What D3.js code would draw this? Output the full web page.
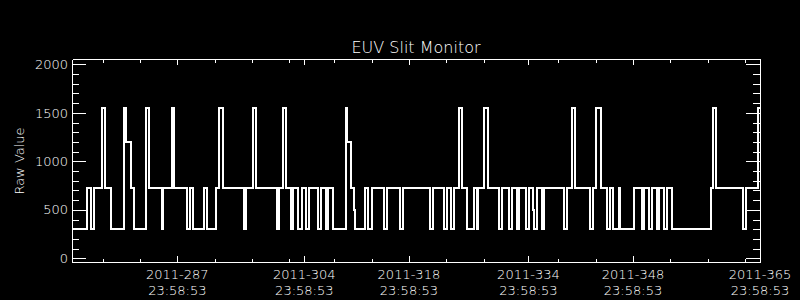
<!DOCTYPE html>
<html>
<head>
<meta charset="utf-8">
<script src="https://cdn.jsdelivr.net/npm/d3@7"></script>
<style>
  html, body { margin: 0; padding: 0; background: #000; }
  svg { display: block; }
  text { fill: #fff; font-family: "DejaVu Sans", sans-serif; font-weight: 200; }
</style>
</head>
<body>
<svg id="chart" width="800" height="300"></svg>
<script>
// day of year 2011 (fractional) where each step starts, and the raw value held from there
const stepDays = [
  273.90, 275.95, 276.48, 276.89, 277.88, 278.28, 279.16, 280.82, 281.13, 281.84,
  282.24, 283.85, 284.17, 285.99, 286.12, 287.25, 287.59, 289.25, 289.70, 290.14,
  291.57, 292.01, 293.14, 293.62, 294.15, 296.97, 297.19, 298.17, 298.57, 301.34,
  301.57, 302.19, 302.59, 303.15, 303.49, 304.20, 304.65, 305.19, 305.59, 306.83,
  307.19, 307.90, 308.17, 308.88, 310.58, 310.75, 311.21, 311.69, 311.83, 313.12,
  313.59, 314.03, 315.67, 316.07, 317.81, 318.17, 321.83, 322.19, 323.74, 324.14,
  324.68, 325.06, 325.75, 326.15, 326.74, 327.76, 328.12, 328.25, 329.09, 329.55,
  331.06, 331.50, 332.44, 332.76, 333.43, 333.74, 334.74, 335.04, 335.65, 335.79,
  336.11, 336.78, 337.15, 339.76, 340.12, 340.79, 341.17, 343.24, 343.58, 344.11,
  344.68, 345.56, 345.92, 346.28, 347.13, 347.21, 349.17, 350.16, 350.51, 351.18,
  351.50, 352.17, 352.52, 353.19, 353.51, 354.18, 359.44, 359.75, 360.07, 363.69,
  364.06, 365.67, 366.00
];
const rawValues = [
  305, 725, 305, 725, 1550, 725, 305, 1550, 1200, 725,
  305, 1550, 725, 305, 725, 1550, 725, 305, 725, 305,
  725, 305, 725, 1550, 725, 305, 725, 1550, 725, 305,
  725, 1550, 725, 305, 725, 305, 725, 305, 725, 305,
  725, 305, 725, 305, 1550, 1200, 725, 500, 305, 725,
  305, 725, 305, 725, 305, 725, 305, 725, 305, 725,
  305, 725, 1550, 725, 305, 725, 305, 725, 1550, 725,
  305, 725, 305, 725, 305, 725, 305, 725, 500, 305,
  725, 305, 725, 305, 725, 1550, 725, 305, 725, 1550,
  725, 305, 725, 305, 725, 305, 725, 305, 725, 305,
  725, 305, 725, 305, 725, 305, 725, 1550, 725, 305,
  725, 1550, 1550
];

const labelYear = 2011;
const labelDays = [287, 304, 318, 334, 348, 365];
const labelTime = '23:58:53';
const minorDays = [278, 283, 293, 298, 303, 309, 314, 324, 329, 339, 344, 354, 359, 364];
const yMajor = [0, 500, 1000, 1500, 2000];
const yMinor = [100, 200, 300, 400, 600, 700, 800, 900, 1100, 1200, 1300, 1400,
                1600, 1700, 1800, 1900];

const plotLeft = 72, plotRight = 760, plotTop = 59, plotBottom = 262;
const timeFrac = (23 * 3600 + 58 * 60 + 53) / 86400;

const svg = d3.select('#chart');
svg.append('rect').attr('width', 800).attr('height', 300).attr('fill', '#000');

const x = d3.scaleLinear().domain([273.9, 366.0]).range([plotLeft, plotRight]);
const y = d3.scaleLinear().domain([-38, 2055]).range([plotBottom, plotTop]);

const majorX = labelDays.map(d => d + timeFrac);

function styleAxis(g) {
  g.attr('color', '#fff').attr('shape-rendering', 'crispEdges');
  g.selectAll('text').attr('fill', '#fff').attr('font-size', 13)
    .attr('font-family', '"DejaVu Sans", sans-serif');
}

// bottom + top x axes (ticks inward)
svg.append('g').attr('transform', `translate(0,${plotBottom})`)
  .call(d3.axisBottom(x).tickValues(majorX).tickSize(-6).tickSizeOuter(0).tickFormat(''))
  .call(styleAxis);
svg.append('g').attr('transform', `translate(0,${plotBottom})`)
  .call(d3.axisBottom(x).tickValues(minorDays).tickSize(-3.5).tickSizeOuter(0).tickFormat(''))
  .call(styleAxis);
svg.append('g').attr('transform', `translate(0,${plotTop})`)
  .call(d3.axisTop(x).tickValues(majorX).tickSize(-6).tickSizeOuter(0).tickFormat(''))
  .call(styleAxis);
svg.append('g').attr('transform', `translate(0,${plotTop})`)
  .call(d3.axisTop(x).tickValues(minorDays).tickSize(-3.5).tickSizeOuter(0).tickFormat(''))
  .call(styleAxis);

// left + right y axes
svg.append('g').attr('transform', `translate(${plotLeft},0)`)
  .call(d3.axisLeft(y).tickValues(yMajor).tickSize(-14).tickSizeOuter(0).tickPadding(4).tickFormat(d3.format('d')))
  .call(styleAxis);
svg.append('g').attr('transform', `translate(${plotLeft},0)`)
  .call(d3.axisLeft(y).tickValues(yMinor).tickSize(-7).tickSizeOuter(0).tickFormat(''))
  .call(styleAxis);
svg.append('g').attr('transform', `translate(${plotRight},0)`)
  .call(d3.axisRight(y).tickValues(yMajor).tickSize(-14).tickSizeOuter(0).tickFormat(''))
  .call(styleAxis);
svg.append('g').attr('transform', `translate(${plotRight},0)`)
  .call(d3.axisRight(y).tickValues(yMinor).tickSize(-7).tickSizeOuter(0).tickFormat(''))
  .call(styleAxis);

// two-line date labels under the major ticks
const xl = svg.append('g').attr('font-size', 13).attr('text-anchor', 'middle');
labelDays.forEach((d, i) => {
  const t = xl.append('text').attr('x', x(majorX[i]));
  t.append('tspan').attr('x', x(majorX[i])).attr('y', 278.5).text(`${labelYear}-${d}`);
  t.append('tspan').attr('x', x(majorX[i])).attr('y', 294.5).text(labelTime);
});

svg.append('text')
  .attr('x', (plotLeft + plotRight) / 2).attr('y', 52.5)
  .attr('text-anchor', 'middle').attr('font-size', 16)
  .text('EUV Slit Monitor');

svg.append('text')
  .attr('transform', 'translate(24,161) rotate(-90)')
  .attr('text-anchor', 'middle').attr('font-size', 13)
  .text('Raw Value');

// the step trace
const pts = stepDays.map((d, i) => [d, rawValues[i]]);
const line = d3.line()
  .x(d => x(d[0]))
  .y(d => y(d[1]))
  .curve(d3.curveStepAfter);

svg.append('path')
  .datum(pts)
  .attr('d', line)
  .attr('fill', 'none')
  .attr('stroke', '#fff')
  .attr('stroke-width', 2)
  .attr('shape-rendering', 'crispEdges');
</script>
</body>
</html>
